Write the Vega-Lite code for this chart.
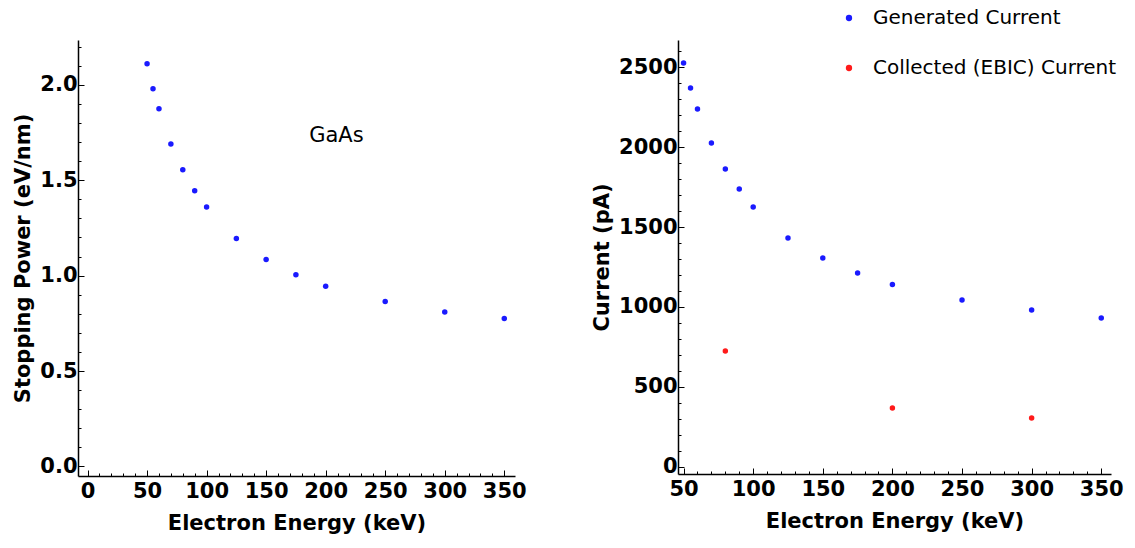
{
  "$schema": "https://vega.github.io/schema/vega-lite/v6.json",
  "padding": {"left": 12, "top": 8, "right": 5, "bottom": 5},
  "background": "white",
  "config": {
    "view": {"stroke": null},
    "font": "DejaVu Sans",
    "axis": {
      "grid": false,
      "domainColor": "black",
      "domainWidth": 1.5,
      "tickColor": "black",
      "tickWidth": 1,
      "labelFont": "DejaVu Sans",
      "labelFontWeight": "bold",
      "labelFontSize": 21,
      "labelColor": "black",
      "labelOverlap": false,
      "labelFlush": false,
      "titleFont": "DejaVu Sans",
      "titleFontWeight": "bold",
      "titleFontSize": 21,
      "titleColor": "black",
      "labelPadding": 4
    }
  },
  "datasets": {
    "stop": [
      {"energy": 50, "sp": 2.11},
      {"energy": 55, "sp": 1.98},
      {"energy": 60, "sp": 1.875},
      {"energy": 70, "sp": 1.69},
      {"energy": 80, "sp": 1.555},
      {"energy": 90, "sp": 1.445},
      {"energy": 100, "sp": 1.36},
      {"energy": 125, "sp": 1.195},
      {"energy": 150, "sp": 1.085},
      {"energy": 175, "sp": 1.005},
      {"energy": 200, "sp": 0.945},
      {"energy": 250, "sp": 0.865},
      {"energy": 300, "sp": 0.81},
      {"energy": 350, "sp": 0.775}
    ],
    "current": [
      {"energy": 50, "current": 2525, "series": "Generated Current"},
      {"energy": 55, "current": 2369, "series": "Generated Current"},
      {"energy": 60, "current": 2237, "series": "Generated Current"},
      {"energy": 70, "current": 2025, "series": "Generated Current"},
      {"energy": 80, "current": 1862, "series": "Generated Current"},
      {"energy": 90, "current": 1737, "series": "Generated Current"},
      {"energy": 100, "current": 1625, "series": "Generated Current"},
      {"energy": 125, "current": 1431, "series": "Generated Current"},
      {"energy": 150, "current": 1306, "series": "Generated Current"},
      {"energy": 175, "current": 1212, "series": "Generated Current"},
      {"energy": 200, "current": 1140, "series": "Generated Current"},
      {"energy": 250, "current": 1044, "series": "Generated Current"},
      {"energy": 300, "current": 981, "series": "Generated Current"},
      {"energy": 350, "current": 931, "series": "Generated Current"},
      {"energy": 80, "current": 725, "series": "Collected (EBIC) Current"},
      {"energy": 200, "current": 369, "series": "Collected (EBIC) Current"},
      {"energy": 300, "current": 306, "series": "Collected (EBIC) Current"}
    ],
    "label": [{"energy": 209, "sp": 1.73, "text": "GaAs"}]
  },
  "hconcat": [
    {
      "width": 437,
      "height": 436,
      "encoding": {
        "x": {
          "field": "energy", "type": "quantitative",
          "scale": {"domain": [-8, 359], "nice": false, "zero": false},
          "axis": {
            "title": "Electron Energy (keV)",
            "values": [0,10,20,30,40,50,60,70,80,90,100,110,120,130,140,150,160,170,180,190,200,210,220,230,240,250,260,270,280,290,300,310,320,330,340,350],
            "labelExpr": "datum.value % 50 == 0 ? datum.label : ''",
            "tickSize": {"condition": {"test": "datum.value % 50 == 0", "value": -6}, "value": -3},
            "labelOverlap": false,
            "labelPadding": 10,
            "titlePadding": 8
          }
        },
        "y": {
          "field": "sp", "type": "quantitative",
          "scale": {"domain": [-0.05, 2.235], "nice": false, "zero": false},
          "axis": {
            "title": "Stopping Power (eV/nm)",
            "values": [0,0.1,0.2,0.3,0.4,0.5,0.6,0.7,0.8,0.9,1.0,1.1,1.2,1.3,1.4,1.5,1.6,1.7,1.8,1.9,2.0,2.1,2.2],
            "format": ".1f",
            "labelExpr": "abs(datum.value*2 - round(datum.value*2)) < 0.001 ? datum.label : ''",
            "tickSize": {"condition": {"test": "abs(datum.value*2 - round(datum.value*2)) < 0.001", "value": -6}, "value": -3},
            "labelOverlap": false,
            "labelPadding": 7,
            "titlePadding": 6
          }
        }
      },
      "layer": [
        {
          "data": {"name": "stop"},
          "mark": {"type": "point", "filled": true, "shape": "circle", "size": 30, "color": "#1a1aff", "opacity": 1}
        },
        {
          "data": {"name": "label"},
          "mark": {"type": "text", "fontSize": 21, "font": "DejaVu Sans", "color": "black"},
          "encoding": {
            "text": {"field": "text"}
          }
        }
      ]
    },
    {
      "width": 433,
      "height": 434,
      "data": {"name": "current"},
      "mark": {"type": "point", "filled": true, "shape": "circle", "size": 30, "opacity": 1},
      "encoding": {
        "x": {
          "field": "energy", "type": "quantitative",
          "scale": {"domain": [46, 357], "nice": false, "zero": false},
          "axis": {
            "title": "Electron Energy (keV)",
            "values": [50,60,70,80,90,100,110,120,130,140,150,160,170,180,190,200,210,220,230,240,250,260,270,280,290,300,310,320,330,340,350],
            "labelExpr": "datum.value % 50 == 0 ? datum.label : ''",
            "tickSize": {"condition": {"test": "datum.value % 50 == 0", "value": -6}, "value": -3},
            "labelOverlap": false,
            "labelPadding": 10,
            "titlePadding": 8
          }
        },
        "y": {
          "field": "current", "type": "quantitative",
          "scale": {"domain": [-44, 2669], "nice": false, "zero": false},
          "axis": {
            "title": "Current (pA)",
            "values": [0,100,200,300,400,500,600,700,800,900,1000,1100,1200,1300,1400,1500,1600,1700,1800,1900,2000,2100,2200,2300,2400,2500,2600],
            "labelExpr": "datum.value % 500 == 0 ? datum.label : ''",
            "format": "d",
            "tickSize": {"condition": {"test": "datum.value % 500 == 0", "value": -6}, "value": -3},
            "labelOverlap": false,
            "labelPadding": 7,
            "titlePadding": 6
          }
        },
        "color": {
          "field": "series", "type": "nominal",
          "scale": {"domain": ["Generated Current", "Collected (EBIC) Current"], "range": ["#1a1aff", "#ff1a1a"]},
          "legend": {
            "title": null,
            "orient": "none",
            "legendX": 761,
            "legendY": -32,
            "labelFontSize": 20,
            "labelFont": "DejaVu Sans",
            "labelColor": "black",
            "labelLimit": 400,
            "symbolSize": 40,
            "symbolType": "circle",
            "rowPadding": 30,
            "labelOffset": 14
          }
        }
      }
    }
  ],
  "spacing": 64
}
